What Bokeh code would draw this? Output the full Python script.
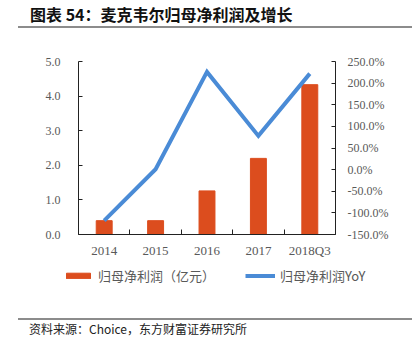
from bokeh.plotting import figure
from bokeh.layouts import column
from bokeh.models import (Range1d, LinearAxis, FixedTicker, Div,
                          PrintfTickFormatter, Legend, LegendItem, ColumnDataSource)
from bokeh.embed import file_html
from bokeh.resources import INLINE

# ---- data ----
years = ["2014", "2015", "2016", "2017", "2018Q3"]
profit = [0.40, 0.40, 1.26, 2.20, 4.33]          # 归母净利润（亿元）
yoy = [-118.0, 1.0, 226.0, 78.0, 222.0]           # 归母净利润YoY (%)
left_ticks = [0, 1, 2, 3, 4, 5]
right_ticks = [-150, -100, -50, 0, 50, 100, 150, 200, 250]
title_text = "图表 54：麦克韦尔归母净利润及增长"
source_text = "资料来源：Choice，东方财富证券研究所"
bar_label = "归母净利润（亿元）"
line_label = "归母净利润YoY"

# ---- style / layout ----
W, H = 416, 352
TOP_H = 30          # title block
MAIN_H = 230        # chart block (30..260)
LEG_H = 58          # legend block (260..318)
BOT_H = H - TOP_H - MAIN_H - LEG_H
BAR = "#DC4D1E"
LINE = "#4A8BD6"
GRAY = "#595959"
AX = "#222222"
CJK = "Noto Sans CJK SC"
NUM = "Liberation Serif"

n = len(years)
xc = [i + 0.5 for i in range(n)]                 # category centres
src = ColumnDataSource(dict(x=xc, year=years, profit=profit, yoy=yoy))

p = figure(width=W, height=MAIN_H, x_range=Range1d(0, n),
           y_range=Range1d(0, 5), output_backend="svg", toolbar_location=None,
           x_axis_location=None, y_axis_location=None,
           min_border_left=78, min_border_right=81, min_border_top=61 - TOP_H,
           min_border_bottom=(TOP_H + MAIN_H) - 235)
p.extra_y_ranges = {"yoy": Range1d(-150, 250)}
p.outline_line_color = None
p.grid.visible = False

la = LinearAxis(ticker=FixedTicker(ticks=left_ticks), formatter=PrintfTickFormatter(format="%.1f"),
                major_tick_in=4, major_tick_out=0, minor_tick_line_color=None,
                axis_line_color=AX, major_tick_line_color=AX,
                major_label_text_color=GRAY, major_label_text_font=NUM,
                major_label_text_font_size="12px", major_label_standoff=18)
p.add_layout(la, "left")
ra = LinearAxis(y_range_name="yoy", ticker=FixedTicker(ticks=right_ticks),
                formatter=PrintfTickFormatter(format="%.1f%%"),
                major_tick_in=4, major_tick_out=0, minor_tick_line_color=None,
                axis_line_color=AX, major_tick_line_color=AX,
                major_label_text_color=GRAY, major_label_text_font=NUM,
                major_label_text_font_size="12px", major_label_standoff=12)
p.add_layout(ra, "right")
ba = LinearAxis(ticker=FixedTicker(ticks=xc, minor_ticks=list(range(n + 1))),
                major_label_overrides={c: y for c, y in zip(xc, years)},
                major_tick_line_color=None, major_tick_in=0, major_tick_out=0,
                minor_tick_in=5, minor_tick_out=0, minor_tick_line_color=AX,
                axis_line_color=AX, major_label_standoff=8,
                major_label_text_color=GRAY, major_label_text_font=NUM,
                major_label_text_font_size="13px")
p.add_layout(ba, "below")

p.vbar(x="x", top="profit", width=0.31, source=src, fill_color=BAR, line_color=BAR)
p.line(x="x", y="yoy", y_range_name="yoy", source=src, line_color=LINE,
       line_width=4, line_join="miter")

# legend block: a frameless figure whose legend keys mirror the chart's glyphs
lf = figure(width=W, height=LEG_H, x_range=Range1d(-20, -19), y_range=Range1d(-20, -19),
            output_backend="svg", toolbar_location=None,
            x_axis_location=None, y_axis_location=None, min_border=0)
if "frame_align" in lf.properties():
    lf.frame_align = False          # keep this frame full-width (not aligned to chart frame)
lf.outline_line_color = None
lf.grid.visible = False
k1 = lf.vbar(x="x", top="profit", width=0.31, source=src, fill_color=BAR, line_color=BAR)
k2 = lf.line(x="x", y="yoy", source=src, line_color=LINE, line_width=4)
leg = Legend(items=[LegendItem(label=bar_label, renderers=[k1]),
                    LegendItem(label=line_label, renderers=[k2])],
             orientation="horizontal", location=(63, LEG_H - 25), padding=0, margin=0,
             spacing=30, label_standoff=5, glyph_width=30, glyph_height=7,
             label_height=20, border_line_color=None, background_fill_alpha=0,
             label_text_font=CJK, label_text_font_size="13px", label_text_color=GRAY)
lf.add_layout(leg, "center")

title_div = Div(width=W, height=TOP_H, margin=0, text=(
    f'<div style="position:relative;width:{W}px;height:{TOP_H}px;">'
    f'<div style="position:absolute;left:30px;top:5px;font-family:\'{CJK}\';font-weight:bold;'
    f'font-size:16px;line-height:18px;color:#111111;white-space:nowrap;">{title_text}</div>'
    f'<div style="position:absolute;left:18px;top:26px;width:394px;height:2px;'
    f'background:#8C8C8C;"></div></div>'))
foot_div = Div(width=W, height=BOT_H, margin=0, text=(
    f'<div style="position:relative;width:{W}px;height:{BOT_H}px;">'
    f'<div style="position:absolute;left:18px;top:0px;width:394px;height:2px;'
    f'background:#8C8C8C;"></div>'
    f'<div style="position:absolute;left:29px;top:4px;font-family:\'{CJK}\';'
    f'font-size:12px;line-height:14px;color:#222222;white-space:nowrap;">{source_text}</div></div>'))

layout = column(title_div, p, lf, foot_div, spacing=0, margin=0)
open("out.html", "w").write(file_html(layout, INLINE))
